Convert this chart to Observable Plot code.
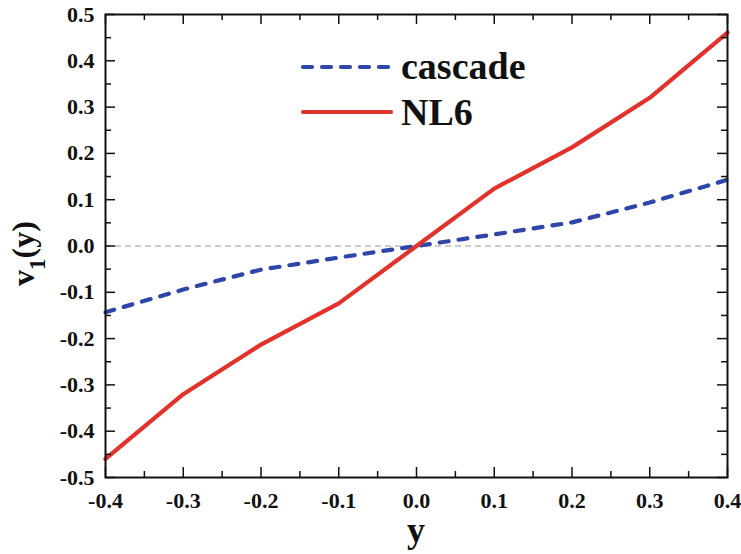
<!DOCTYPE html>
<html>
<head>
<meta charset="utf-8">
<script src="https://cdn.jsdelivr.net/npm/d3@7"></script>
<script src="https://cdn.jsdelivr.net/npm/@observablehq/plot@0.6"></script>
<style>
  html, body { margin: 0; padding: 0; background: #fff; }
  #chart { position: relative; width: 741px; height: 554px; font-family: "Liberation Serif", "DejaVu Serif"; }
  #chart svg text { font-family: "Liberation Serif", "DejaVu Serif"; font-weight: bold; }
  #legend { position: absolute; left: 0; top: 0; pointer-events: none; }
</style>
</head>
<body>
<div id="chart"></div>
<script>
const xValues = [-0.4, -0.3, -0.2, -0.1, 0.0, 0.1, 0.2, 0.3, 0.4];
const cascade = [-0.143, -0.094, -0.051, -0.025, 0.0, 0.025, 0.051, 0.094, 0.143];
const nl6 = [-0.460, -0.320, -0.213, -0.124, 0.0, 0.124, 0.213, 0.320, 0.461];
const xTicks = [-0.4, -0.3, -0.2, -0.1, 0.0, 0.1, 0.2, 0.3, 0.4];
const xMinor = [-0.35, -0.25, -0.15, -0.05, 0.05, 0.15, 0.25, 0.35];
const yTicks = [-0.5, -0.4, -0.3, -0.2, -0.1, 0.0, 0.1, 0.2, 0.3, 0.4, 0.5];
const yMinor = [-0.45, -0.35, -0.25, -0.15, -0.05, 0.05, 0.15, 0.25, 0.35, 0.45];
const seriesNames = ["cascade", "NL6"];

const W = 741, H = 554;
const mL = 105, mR = 14, mT = 14, mB = 77;
const pw = W - mL - mR, ph = H - mT - mB;
const blue = "#2f46a8", red = "#e3322b";

const casData = xValues.map((x, i) => ({x, v: cascade[i]}));
const nlData = xValues.map((x, i) => ({x, v: nl6[i]}));
const fmt = d => d.toFixed(1);

const plot = Plot.plot({
  width: W, height: H,
  marginLeft: mL, marginRight: mR, marginTop: mT, marginBottom: mB,
  style: {background: "#fff", color: "#111", fontSize: "22px"},
  x: {domain: [-0.4, 0.4]},
  y: {domain: [-0.5, 0.5]},
  marks: [
    Plot.ruleY([0], {stroke: "#999", strokeWidth: 1.2, strokeDasharray: "6,4"}),
    Plot.line(casData, {x: "x", y: "v", stroke: blue, strokeWidth: 4.2, strokeDasharray: "9,10", strokeLinecap: "round"}),
    Plot.line(nlData, {x: "x", y: "v", stroke: red, strokeWidth: 4.2}),
    Plot.ruleX(xTicks, {stroke: "#111", strokeWidth: 1.5, insetTop: ph - 10}),
    Plot.ruleX(xTicks, {stroke: "#111", strokeWidth: 1.5, insetBottom: ph - 10}),
    Plot.ruleX(xMinor, {stroke: "#111", strokeWidth: 1.5, insetTop: ph - 6}),
    Plot.ruleX(xMinor, {stroke: "#111", strokeWidth: 1.5, insetBottom: ph - 6}),
    Plot.ruleY(yTicks, {stroke: "#111", strokeWidth: 1.5, insetRight: pw - 10}),
    Plot.ruleY(yTicks, {stroke: "#111", strokeWidth: 1.5, insetLeft: pw - 10}),
    Plot.ruleY(yMinor, {stroke: "#111", strokeWidth: 1.5, insetRight: pw - 6}),
    Plot.ruleY(yMinor, {stroke: "#111", strokeWidth: 1.5, insetLeft: pw - 6}),
    Plot.frame({stroke: "#111", strokeWidth: 2}),
    Plot.axisX(xTicks, {tickSize: 0, tickPadding: 15, tickFormat: fmt, label: null}),
    Plot.axisY(yTicks, {tickSize: 0, tickPadding: 11, tickFormat: fmt, label: null})
  ]
});

document.getElementById("chart").appendChild(plot);

const svg = d3.select(plot);

svg.append("text")
  .attr("x", mL + pw / 2).attr("y", 542)
  .attr("text-anchor", "middle")
  .style("font-size", "36px")
  .attr("fill", "#111")
  .text("y");

const yl = svg.append("text")
  .attr("transform", `translate(34, ${mT + ph / 2 + 8}) rotate(-90)`)
  .attr("text-anchor", "middle")
  .style("font-size", "32px")
  .attr("fill", "#111");
yl.append("tspan").text("v");
yl.append("tspan").attr("dy", 11).style("font-size", "23px").text("1");
yl.append("tspan").attr("dy", -11).text("(y)");

const leg = d3.select("#chart").append("svg")
  .attr("id", "legend").attr("width", W).attr("height", H);
const entries = [
  {name: seriesNames[0], color: blue, dash: "9,10", ly: 67, ty: 79},
  {name: seriesNames[1], color: red, dash: null, ly: 112, ty: 125}
];
for (const e of entries) {
  leg.append("line")
    .attr("x1", 303).attr("x2", 391).attr("y1", e.ly).attr("y2", e.ly)
    .attr("stroke", e.color).attr("stroke-width", 4.2)
    .attr("stroke-linecap", "round")
    .attr("stroke-dasharray", e.dash);
  leg.append("text")
    .attr("x", 401).attr("y", e.ty)
    .style("font-size", "38px")
    .attr("fill", "#111")
    .text(e.name);
}
</script>
</body>
</html>
